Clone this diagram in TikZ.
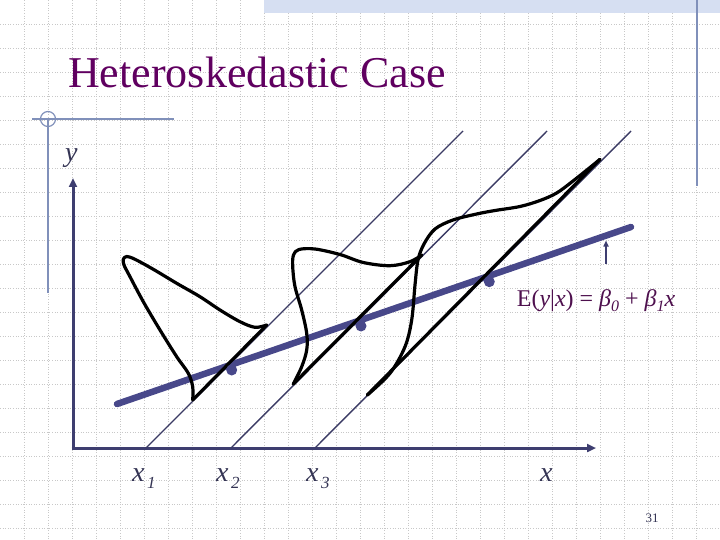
\documentclass[tikz,border=0pt]{standalone}
\usepackage{fontspec}
\setmainfont{Liberation Serif}
\usetikzlibrary{arrows.meta, positioning}

\definecolor{gridgray}{RGB}{200,200,200}
\definecolor{decoblue}{RGB}{128,144,186}
\definecolor{bandblue}{RGB}{214,223,242}
\definecolor{axisnavy}{RGB}{62,62,112}
\definecolor{slantnavy}{RGB}{58,58,100}
\definecolor{regblue}{RGB}{72,72,138}
\definecolor{titlepurple}{RGB}{96,0,96}
\definecolor{labelpurple}{RGB}{78,16,78}
\definecolor{labelnavy}{RGB}{52,52,84}

\newcommand{\xsub}[1]{\itshape x\hspace{2.5pt}\raisebox{-7pt}{\fontsize{17}{17}\selectfont #1}}
\newcommand{\bsub}[1]{\raisebox{-4.5pt}{\fontsize{16}{16}\selectfont\itshape #1}}

\begin{document}
\begin{tikzpicture}[
  x=1pt, y=-1pt,
  gridline/.style={draw=gridgray, line width=0.6pt, dash pattern=on 1pt off 1.6pt},
  deco/.style={draw=decoblue, line width=1.2pt},
  axis/.style={draw=axisnavy, line width=3pt, -{Triangle[length=9pt, width=8pt]}},
  slant/.style={draw=slantnavy, line width=1.4pt},
  regline/.style={draw=regblue, line width=6.5pt, line cap=round},
  density/.style={draw=black, line width=3.2pt, line join=round, line cap=round},
  meanpt/.style={circle, fill=regblue, minimum size=11pt, inner sep=0pt},
  ticklbl/.style={font=\fontsize{28}{28}\selectfont, text=labelnavy, inner sep=0pt},
  eqlbl/.style={font=\fontsize{24}{24}\selectfont, text=labelpurple, inner sep=0pt}
]
\useasboundingbox (0,0) rectangle (720,540);

%% ---------- slide background ----------
\foreach \gx in {24,48,...,696} \draw[gridline] (\gx,0) -- (\gx,540);
\foreach \gy in {24,48,...,528} \draw[gridline] (0,\gy) -- (720,\gy);
\fill[bandblue] (264,0) rectangle (720,13);
\draw[deco] (697,0) -- (697,186);
\draw[deco] (32,119) -- (174,119);
\draw[deco] (48,119) -- (48,293);
\draw[deco] (48,119) circle (7.5);

%% ---------- title ----------
\node[anchor=base west, inner sep=0pt, text=titlepurple,
      font=\fontsize{44}{44}\selectfont] (title) at (68,88) {Heteroskedastic Case};

%% ---------- axes ----------
\coordinate (origin) at (73,448);
\coordinate (ytip) at (73,178);
\coordinate (xtip) at (596,448);
\draw[axis] (73,449.5) -- (ytip);
\draw[axis] (71.5,448) -- (xtip);

%% ---------- slanted y-planes at x1, x2, x3 ----------
\coordinate (foot1) at (146,448);  \coordinate (top1) at (463,131);
\coordinate (foot2) at (231,448);  \coordinate (top2) at (547,131);
\coordinate (foot3) at (315,448);  \coordinate (top3) at (631,131);
\foreach \i in {1,2,3} \draw[slant] (foot\i) -- (top\i);

%% ---------- regression line ----------
\coordinate (regstart) at (117,404);
\coordinate (regend) at (631,227);
\draw[regline] (regstart) -- (regend);

%% ---------- conditional densities ----------
% x1
\coordinate (base1) at (192.7,400);  \coordinate (crest1) at (266.7,325);
\draw[density] (base1) -- (crest1);
\draw[density] plot[smooth, tension=0.55] coordinates {
  (crest1) (255,327.3) (240,321.7) (220,310) (200,296.7) (176.7,283.3)
  (153.3,269.3) (135,259.3) (126.7,256.5) (123.3,259.3) (124,265)
  (130,276.7) (143.3,301.7) (160,330) (176.7,356.7) (188.3,373.3)
  (192.7,386.7) (base1)};
% x2
\coordinate (base2) at (293.3,384);  \coordinate (crest2) at (421.7,255);
\draw[density] (base2) -- (crest2);
\draw[density] plot[smooth, tension=0.55] coordinates {
  (crest2) (410,261.7) (390,265.7) (363.3,262.5) (340,254.5) (315,249)
  (299,249.5) (293.5,255) (292.7,266.7) (295,286.7) (301.7,310)
  (306.7,333.3) (306.7,350) (301.7,366.7) (base2)};
% x3
\coordinate (base3) at (367.3,395);  \coordinate (crest3) at (600,159.3);
\draw[density] (base3) -- (crest3);
\draw[density] plot[smooth, tension=0.55] coordinates {
  (crest3) (590,167.5) (573,181) (556.7,193) (540,200.5) (520,206.5)
  (495,210.5) (476.7,214) (453,220) (435,229) (424,244) (418,260)
  (415,285) (411.7,320) (405,346.7) (390,373.3) (base3)};

%% ---------- means on the line ----------
\node[meanpt] (mean1) at (231.7,370) {};
\node[meanpt] (mean2) at (361,326) {};
\node[meanpt] (mean3) at (489.3,281.7) {};

%% ---------- labels ----------
\node[ticklbl, anchor=base west] (ylbl) at (65,162) {\itshape y};
\node[ticklbl, anchor=base west] (x1lbl) at (132,481) {\xsub{1}};
\node[ticklbl, anchor=base west] (x2lbl) at (216,481) {\xsub{2}};
\node[ticklbl, anchor=base west] (x3lbl) at (306,481) {\xsub{3}};
\node[ticklbl, anchor=base west] (xlbl) at (540,481) {\itshape x};

\coordinate (pointer) at (606,264);
\draw[draw=axisnavy, line width=1.6pt, -{Triangle[length=6pt, width=5pt]}]
  (pointer) -- (606,240.5);
\node[eqlbl, anchor=base west] (eq) at (516.7,306.7)
  {E(\textit{y}|\textit{x}) = \textit{β}\bsub{0} + \textit{β}\bsub{1}\textit{x}};

\node[anchor=base, inner sep=0pt, text=labelnavy,
      font=\fontsize{13}{13}\selectfont] (pageno) at (652,522) {31};
\end{tikzpicture}
\end{document}
